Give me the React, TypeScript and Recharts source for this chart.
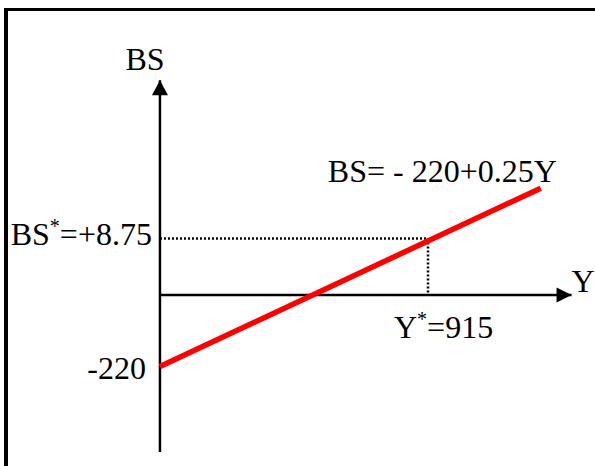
import React from 'react';
import { LineChart, Line, XAxis, YAxis, ReferenceDot } from 'recharts';

// Schematic diagram (not to scale): values below are positions in diagram units.
const X_DOMAIN: [number, number] = [-546, 1485];
const Y_DOMAIN: [number, number] = [-526, 908];

// Saving function line BS = -220 + 0.25Y (end points, schematic)
const lineIncome = [0, 1300];
const lineSaving = [-220, 329];

// Equilibrium (schematic position)
const eqIncome = 915;
const eqSavingPos = 174;

// Axis extents (schematic)
const bsAxisRange = [-483, 661];
const yAxisRange = [0, 1405];

// Text labels
const bsAxisLabel = 'BS';
const yAxisLabel = 'Y';
const interceptLabel = '-220';
const eqSavingLabel = ['BS', '*', '=+8.75'];
const eqIncomeLabel = ['Y', '*', '=915'];
const equationLabel = 'BS= - 220+0.25Y';

const FONT = '"Liberation Serif", "Times New Roman", serif';
const FS = 32;

const mk = (xs: number[], ys: number[]) => xs.map((x, i) => ({ x, v: ys[i] }));

const redLine = mk(lineIncome, lineSaving);
const xAxisLine = mk(yAxisRange, [0, 0]);
const yAxisLine = mk([0, 0], bsAxisRange);
const dotH = mk([0, eqIncome], [eqSavingPos, eqSavingPos]);
const dotV = mk([eqIncome, eqIncome], [eqSavingPos, 0]);

const textShape =
  (content: React.ReactNode, dx: number, dy: number, anchor: 'start' | 'middle' | 'end') =>
  (p: any) => (
    <text
      x={p.cx + dx}
      y={p.cy + dy}
      textAnchor={anchor}
      fontFamily={FONT}
      fontSize={FS}
      fill="#000"
    >
      {content}
    </text>
  );

const supText = (parts: string[]) => (
  <>
    <tspan>{parts[0]}</tspan>
    <tspan dy={-12} fontSize={20}>{parts[1]}</tspan>
    <tspan dy={12}>{parts[2]}</tspan>
  </>
);

const upArrow = (p: any) => (
  <polygon points={`${p.cx},${p.cy} ${p.cx - 8},${p.cy + 15} ${p.cx + 8},${p.cy + 15}`} fill="#000" />
);
const rightArrow = (p: any) => (
  <polygon points={`${p.cx},${p.cy} ${p.cx - 15},${p.cy - 7.5} ${p.cx - 15},${p.cy + 7.5}`} fill="#000" />
);

export default function App() {
  return (
    <div style={{ position: 'absolute', left: 0, top: 0, width: 595, height: 466, background: '#fff' }}>
      <div
        style={{
          position: 'absolute',
          left: 4,
          top: 8,
          width: 591,
          height: 458,
          borderTop: '3.5px solid #000',
          borderLeft: '4px solid #000',
          boxSizing: 'border-box',
        }}
      />
      <div style={{ position: 'absolute', left: 0, top: 0 }}>
        <LineChart width={595} height={466} margin={{ top: 0, right: 0, bottom: 0, left: 0 }}>
          <XAxis type="number" dataKey="x" domain={X_DOMAIN} hide allowDataOverflow />
          <YAxis type="number" dataKey="v" domain={Y_DOMAIN} hide allowDataOverflow />
          <Line data={yAxisLine} dataKey="v" stroke="#000" strokeWidth={2.5} dot={false} activeDot={false} isAnimationActive={false} />
          <Line data={xAxisLine} dataKey="v" stroke="#000" strokeWidth={2.5} dot={false} activeDot={false} isAnimationActive={false} />
          <Line data={dotH} dataKey="v" stroke="#000" strokeWidth={2.5} strokeDasharray="2 2" dot={false} activeDot={false} isAnimationActive={false} />
          <Line data={dotV} dataKey="v" stroke="#000" strokeWidth={2.5} strokeDasharray="2 2" dot={false} activeDot={false} isAnimationActive={false} />
          <Line data={redLine} dataKey="v" stroke="#ff0000" strokeWidth={5.5} dot={false} activeDot={false} isAnimationActive={false} />
          <ReferenceDot x={0} y={bsAxisRange[1]} r={1} shape={upArrow} />
          <ReferenceDot x={yAxisRange[1]} y={0} r={1} shape={rightArrow} />
          <ReferenceDot x={0} y={bsAxisRange[1]} r={1} shape={textShape(bsAxisLabel, -15, -10, 'middle')} />
          <ReferenceDot x={yAxisRange[1]} y={0} r={1} shape={textShape(yAxisLabel, 0, -3, 'start')} />
          <ReferenceDot x={0} y={lineSaving[0]} r={1} shape={textShape(interceptLabel, -14, 12, 'end')} />
          <ReferenceDot x={0} y={eqSavingPos} r={1} shape={textShape(supText(eqSavingLabel), -8, 6, 'end')} />
          <ReferenceDot x={eqIncome} y={0} r={1} shape={textShape(supText(eqIncomeLabel), -34, 43, 'start')} />
          <ReferenceDot x={lineIncome[1]} y={lineSaving[1]} r={1} shape={textShape(equationLabel, 16, -6, 'end')} />
        </LineChart>
      </div>
    </div>
  );
}
